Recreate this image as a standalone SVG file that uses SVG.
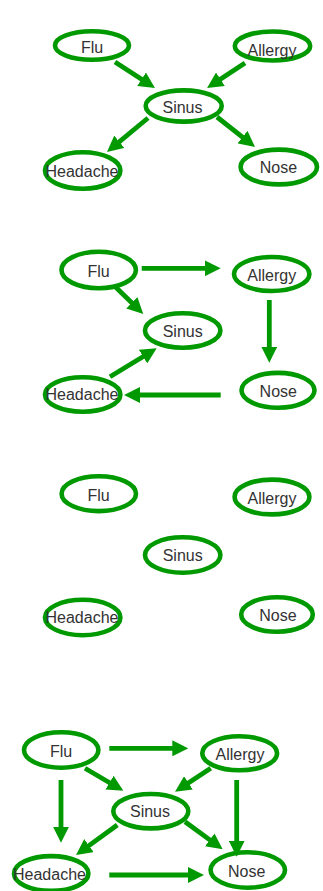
<svg xmlns="http://www.w3.org/2000/svg" width="323" height="891" viewBox="0 0 323 891">
  <style>
    .node ellipse { fill: #ffffff; stroke: #009900; stroke-width: 4.6; }
    .node text { font-family: "Liberation Sans", Arial, sans-serif; font-size: 16px; fill: #333333; text-anchor: middle; }
    .edges line { stroke: #009900; stroke-width: 4.8; marker-end: url(#arrow); }
  </style>
  <defs>
    <marker id="arrow" markerUnits="userSpaceOnUse" markerWidth="16" markerHeight="16" refX="6" refY="8" orient="auto">
      <path d="M0,0 L16,8 L0,16 Z" fill="#009900"/>
    </marker>
  </defs>
  <rect width="323" height="891" fill="#ffffff"/>

  <!-- Graph 1: common cause / common effect through Sinus -->
  <g id="g1">
    <g class="edges" id="g1-edges">
      <line x1="115" y1="62" x2="146.6" y2="82.5"/>
      <line x1="245" y1="63" x2="215.4" y2="82.5"/>
      <line x1="148" y1="118" x2="114.7" y2="145.6"/>
      <line x1="217" y1="117" x2="247.2" y2="140.8"/>
    </g>
    <g class="node" id="g1-flu"><ellipse cx="92" cy="45.5" rx="37" ry="14.2"/><text x="92" y="53">Flu</text></g>
    <g class="node" id="g1-allergy"><ellipse cx="272.5" cy="46" rx="37.7" ry="14.5"/><text x="272" y="55.5">Allergy</text></g>
    <g class="node" id="g1-sinus"><ellipse cx="183.7" cy="106" rx="38" ry="15.6"/><text x="182.5" y="113">Sinus</text></g>
    <g class="node" id="g1-headache"><ellipse cx="82.7" cy="170.5" rx="37.7" ry="18.2"/><text x="82" y="176.5">Headache</text></g>
    <g class="node" id="g1-nose"><ellipse cx="278.8" cy="167" rx="38.2" ry="17.4"/><text x="278.5" y="173">Nose</text></g>
  </g>

  <!-- Graph 2: cycle-shaped arrangement -->
  <g id="g2">
    <g class="edges" id="g2-edges">
      <line x1="141.7" y1="268.3" x2="210.7" y2="268.3"/>
      <line x1="111.7" y1="283.3" x2="136.1" y2="307"/>
      <line x1="269.3" y1="300" x2="269.3" y2="352.7"/>
      <line x1="220.7" y1="395" x2="134" y2="395"/>
      <line x1="110" y1="376.7" x2="148.2" y2="353.5"/>
    </g>
    <g class="node" id="g2-flu"><ellipse cx="98.7" cy="270" rx="37.2" ry="18.2"/><text x="98.5" y="276.5">Flu</text></g>
    <g class="node" id="g2-allergy"><ellipse cx="271.7" cy="274" rx="37.7" ry="17"/><text x="271.7" y="280.5">Allergy</text></g>
    <g class="node" id="g2-sinus"><ellipse cx="182.7" cy="330.5" rx="37.7" ry="17.2"/><text x="182.7" y="336.5">Sinus</text></g>
    <g class="node" id="g2-headache"><ellipse cx="82.7" cy="394.5" rx="37.7" ry="17.2"/><text x="82" y="400">Headache</text></g>
    <g class="node" id="g2-nose"><ellipse cx="278" cy="390.3" rx="36.5" ry="17.4"/><text x="278.3" y="396.5">Nose</text></g>
  </g>

  <!-- Graph 3: nodes only -->
  <g id="g3">
    <g class="node" id="g3-flu"><ellipse cx="98.8" cy="493.7" rx="37.2" ry="17.4"/><text x="98.5" y="500.5">Flu</text></g>
    <g class="node" id="g3-allergy"><ellipse cx="272" cy="497" rx="37.4" ry="17.4"/><text x="272" y="504">Allergy</text></g>
    <g class="node" id="g3-sinus"><ellipse cx="182.7" cy="555" rx="37.7" ry="17.7"/><text x="182.7" y="560.5">Sinus</text></g>
    <g class="node" id="g3-headache"><ellipse cx="82.7" cy="617.5" rx="37.7" ry="17.7"/><text x="82" y="623">Headache</text></g>
    <g class="node" id="g3-nose"><ellipse cx="277" cy="614.5" rx="35.8" ry="17.2"/><text x="278" y="620.5">Nose</text></g>
  </g>

  <!-- Graph 4: densely connected -->
  <g id="g4">
    <g class="edges" id="g4-edges">
      <line x1="109.3" y1="748.3" x2="178.3" y2="748.3"/>
      <line x1="85" y1="768.3" x2="114.7" y2="785.7"/>
      <line x1="210.7" y1="768.3" x2="183.4" y2="786.2"/>
      <line x1="61" y1="780" x2="61" y2="832.7"/>
      <line x1="117.3" y1="825" x2="84.1" y2="849.1"/>
      <line x1="185" y1="821.7" x2="214.6" y2="843.4"/>
      <line x1="109.3" y1="875" x2="194" y2="875"/>
    </g>
    <g class="node" id="g4-flu"><ellipse cx="61.2" cy="750" rx="37.2" ry="17.7"/><text x="61" y="756.5">Flu</text></g>
    <g class="node" id="g4-allergy"><ellipse cx="239.7" cy="753.3" rx="37.4" ry="17"/><text x="240" y="760">Allergy</text></g>
    <g class="node" id="g4-sinus"><ellipse cx="150.8" cy="811.2" rx="37.5" ry="17.2"/><text x="150" y="816.5">Sinus</text></g>
    <g class="node" id="g4-headache"><ellipse cx="51.2" cy="873.5" rx="37.2" ry="17.4"/><text x="49.5" y="880">Headache</text></g>
    <g class="node" id="g4-nose"><ellipse cx="247.8" cy="870" rx="37.2" ry="17.7"/><text x="246.7" y="876.5">Nose</text></g>
    <!-- Allergy to Nose is drawn over the Nose node -->
    <g class="edges" id="g4-edges-top">
      <line x1="236.7" y1="780" x2="236.7" y2="846.7"/>
    </g>
  </g>
</svg>
